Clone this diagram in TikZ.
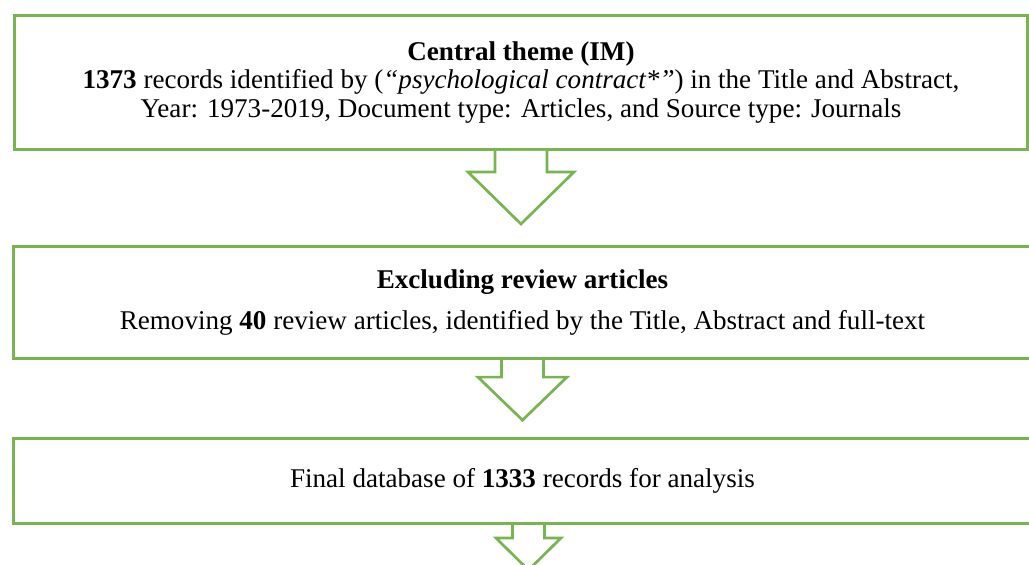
\documentclass[tikz,border=0pt]{standalone}
\usepackage{fontspec}
\setmainfont{Liberation Serif}
\usetikzlibrary{calc, positioning}
\definecolor{boxgreen}{RGB}{120,180,80}

\begin{document}
\begin{tikzpicture}[x=0.48pt, y=-0.48pt,
    font=\fontsize{13}{13.8}\selectfont,
    flowbox/.style={draw=boxgreen, line width=1.45pt, inner sep=0pt,
      align=center, anchor=north west},
    blockarrow/.style={draw=boxgreen, line width=1.3pt, fill=white}]
  \clip (0,0) rectangle (1029,564);

  % boxes
  \node[flowbox, minimum width=486.2pt, minimum height=64.3pt]
    (theme) at (13,14)
    {\textbf{Central theme (IM)}\\
     \textbf{1373} records identified by (\textit{“psychological contract*”}) in the Title and Abstract,\\
     Year: 1973-2019, Document type: Articles, and Source type: Journals};
  \node[flowbox, minimum width=488.6pt, minimum height=53.8pt]
    (review) at (12,245)
    {\textbf{Excluding review articles}\\[5.5pt]
     Removing \textbf{40} review articles, identified by the Title, Abstract and full-text};
  \node[flowbox, minimum width=488.6pt, minimum height=40.8pt]
    (final) at (12,437)
    {Final database of \textbf{1333} records for analysis};

  % block arrows
  \draw[blockarrow] ($(theme.south)+(-26,0)$) -- ++(0,21) -- ++(-27,0)
    -- ($(theme.south)+(0,73)$) -- ($(theme.south)+(53,21)$)
    -- ++(-27,0) -- ++(0,-21);
  \draw[blockarrow] ($(review.south)+(-21,0)$) -- ++(0,17) -- ++(-23.5,0)
    -- ($(review.south)+(0,60)$) -- ($(review.south)+(44.5,17)$)
    -- ++(-23.5,0) -- ++(0,-17);
  \draw[blockarrow] ($(final.south)+(-10,0)$) -- ++(0,13) -- ++(-16.5,0)
    -- ($(final.south)+(6,45)$) -- ($(final.south)+(38.5,13)$)
    -- ++(-16.5,0) -- ++(0,-13);
\end{tikzpicture}
\end{document}
